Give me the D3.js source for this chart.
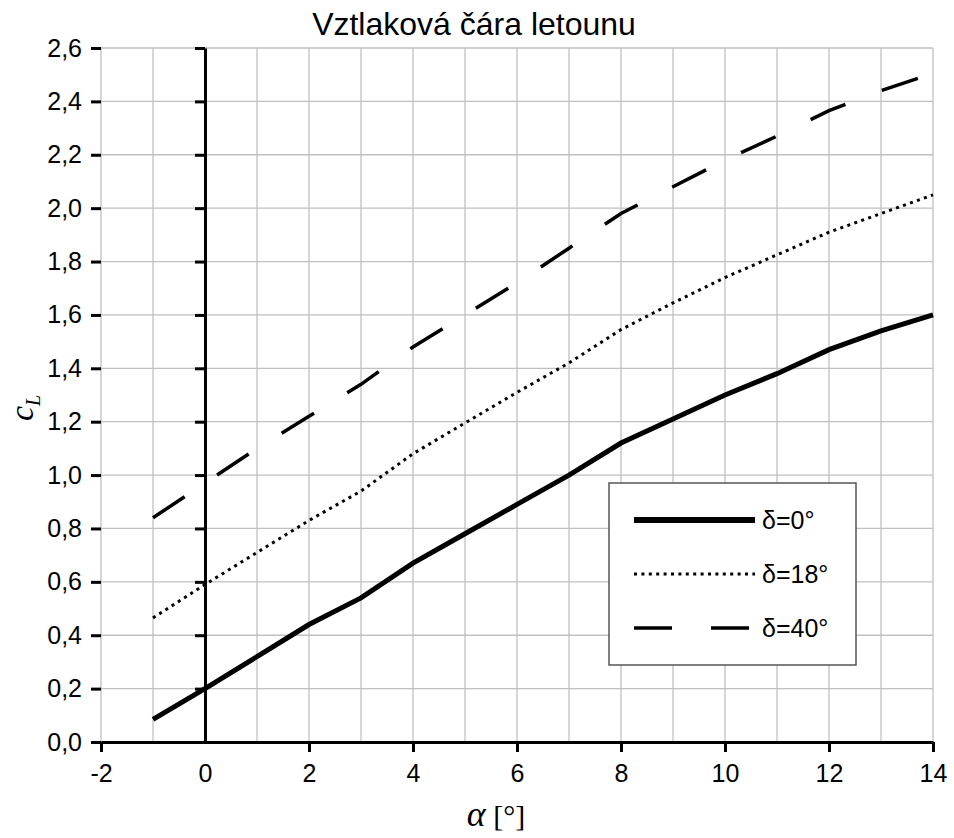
<!DOCTYPE html>
<html><head><meta charset="utf-8">
<script src="https://cdn.jsdelivr.net/npm/d3@7"></script>
<style>body{margin:0;background:#fff}svg{display:block}</style>
</head><body><svg id="c" width="954" height="838"></svg>
<script>
const title = "Vztlaková čára letounu";
const alpha = [-1, 0, 1, 2, 3, 4, 5, 6, 7, 8, 9, 10, 11, 12, 13, 14];
const cl0  = [0.085, 0.20, 0.32, 0.44, 0.54, 0.67, 0.78, 0.89, 1.00, 1.12, 1.21, 1.30, 1.38, 1.47, 1.54, 1.60];
const cl18 = [0.465, 0.59, 0.71, 0.83, 0.94, 1.08, 1.195, 1.31, 1.42, 1.545, 1.645, 1.74, 1.825, 1.91, 1.98, 2.05];
const cl40 = [0.84, 0.97, 1.10, 1.22, 1.34, 1.48, 1.60, 1.72, 1.85, 1.98, 2.08, 2.18, 2.27, 2.365, 2.44, 2.505];
const seriesNames = ["δ=0°", "δ=18°", "δ=40°"];
const xTicks = [-2, 0, 2, 4, 6, 8, 10, 12, 14];
const yTicks = [0, 0.2, 0.4, 0.6, 0.8, 1.0, 1.2, 1.4, 1.6, 1.8, 2.0, 2.2, 2.4, 2.6];
const xGrid = d3.range(-2, 15, 1);

const svg = d3.select("#c");
const x = d3.scaleLinear().domain([-2, 14]).range([101, 933]);
const y = d3.scaleLinear().domain([0, 2.6]).range([742, 48]);
const fmt = v => d3.format(".1f")(v).replace(".", ",");
const font = "'Liberation Sans', Arial, sans-serif";

// grid
const g = svg.append("g");
g.selectAll("line.v").data(xGrid).join("line")
  .attr("x1", d => x(d)).attr("x2", d => x(d)).attr("y1", y(0)).attr("y2", y(2.6))
  .attr("stroke", "#c0c0c0").attr("stroke-width", 1.3);
g.selectAll("line.h").data(yTicks).join("line")
  .attr("x1", x(-2)).attr("x2", x(14)).attr("y1", d => y(d)).attr("y2", d => y(d))
  .attr("stroke", "#c0c0c0").attr("stroke-width", 1.3);

// series
const series = [
  {name: seriesNames[0], vals: cl0, w: 5, dash: null},
  {name: seriesNames[1], vals: cl18, w: 3, dash: "3,4.4"},
  {name: seriesNames[2], vals: cl40, w: 3.5, dash: "38,39"}
];
const line = d3.line().x(d => x(d[0])).y(d => y(d[1]));
series.forEach(s => {
  svg.append("path").datum(alpha.map((a, i) => [a, s.vals[i]]))
    .attr("d", line).attr("fill", "none").attr("stroke", "#000")
    .attr("stroke-width", s.w).attr("stroke-dasharray", s.dash);
});

// left-edge ticks with labels
const yAx = svg.append("g").attr("transform", `translate(${x(-2)},0)`)
  .call(d3.axisLeft(y).tickValues(yTicks).tickFormat(fmt).tickSize(10).tickPadding(9).tickSizeOuter(0));
yAx.select(".domain").remove();
yAx.selectAll(".tick line").attr("stroke", "#000").attr("stroke-width", 3);
yAx.selectAll(".tick text").attr("font-family", font).attr("font-size", 25).attr("fill", "#000");

// y axis at x = 0
const y0Ax = svg.append("g").attr("transform", `translate(${x(0)},0)`)
  .call(d3.axisLeft(y).tickValues(yTicks).tickFormat("").tickSize(10).tickSizeOuter(0));
y0Ax.select(".domain").attr("stroke", "#000").attr("stroke-width", 3);
y0Ax.selectAll(".tick line").attr("stroke", "#000").attr("stroke-width", 3);

// x axis at y = 0
const xAx = svg.append("g").attr("transform", `translate(0,${y(0)})`)
  .call(d3.axisBottom(x).tickValues(xTicks).tickFormat(d3.format("d")).tickSize(10).tickPadding(12).tickSizeOuter(0));
xAx.select(".domain").attr("stroke", "#000").attr("stroke-width", 3);
xAx.selectAll(".tick line").attr("stroke", "#000").attr("stroke-width", 3)
  .attr("y2", d => d === 0 ? 0 : 10);
xAx.selectAll(".tick text").attr("font-family", font).attr("font-size", 25).attr("fill", "#000")
  .text(d => d3.format("d")(d).replace("−", "-"));

// title
svg.append("text").attr("x", 474).attr("y", 35).attr("text-anchor", "middle")
  .attr("font-family", font).attr("font-size", 32).attr("fill", "#000").text(title);

// x label
const xl = svg.append("text").attr("x", 496).attr("y", 826).attr("text-anchor", "middle")
  .attr("font-family", "'Liberation Serif', 'DejaVu Serif', serif").attr("fill", "#000");
xl.append("tspan").attr("font-style", "italic").attr("font-size", 36).text("α");
xl.append("tspan").attr("font-size", 30).text(" [°]");

// y label
const yl = svg.append("text").attr("transform", "translate(33,408) rotate(-90)")
  .attr("text-anchor", "middle")
  .attr("font-family", "'Liberation Serif', 'DejaVu Serif', serif").attr("font-style", "italic").attr("fill", "#000");
yl.append("tspan").attr("font-size", 34).text("c");
yl.append("tspan").attr("font-size", 20).attr("dy", 7).text("L");

// legend
const lg = svg.append("g");
lg.append("rect").attr("x", 609).attr("y", 483).attr("width", 247).attr("height", 182)
  .attr("fill", "#fff").attr("stroke", "#555").attr("stroke-width", 1.5);
const rows = [520, 574, 628];
series.forEach((s, i) => {
  lg.append("line").attr("x1", 634).attr("x2", 755).attr("y1", rows[i]).attr("y2", rows[i])
    .attr("stroke", "#000").attr("stroke-width", i === 0 ? 6 : s.w).attr("stroke-dasharray", s.dash);
  lg.append("text").attr("x", 762).attr("y", rows[i]).attr("dy", "0.35em")
    .attr("font-family", font).attr("font-size", 25).attr("fill", "#000").text(s.name);
});
</script></body></html>
